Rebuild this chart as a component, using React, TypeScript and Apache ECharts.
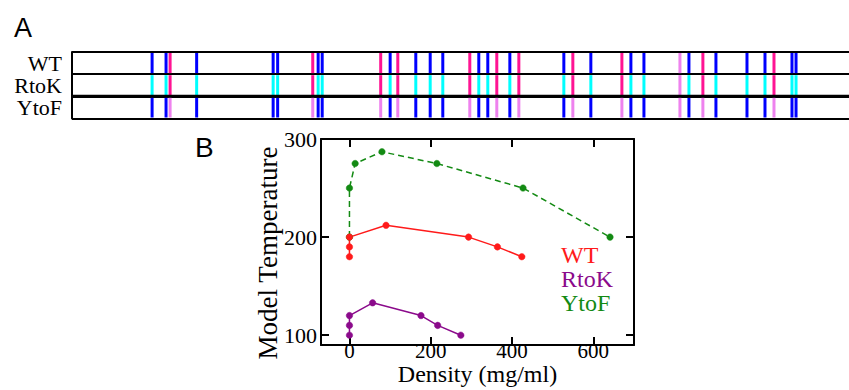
import React, { useEffect, useRef } from "react";
import * as echarts from "echarts";

// Panel A: rows (bottom to top) and site positions (residue index units)
const rows = ["YtoF", "RtoK", "WT"];
const sitesBlue = [17.8, 20.9, 27.7, 44.7, 45.7, 54.7, 55.6, 70.7, 76.4, 79.6, 82.4, 90.4, 92.4, 97.3, 109.3, 115.3, 124.2, 127.1, 137.1, 143.1, 150, 154, 160, 160.9];
const sitesPink = [21.8, 53.5, 68.6, 72.4, 88.4, 94.4, 99.3, 111.3, 122.2, 140.2, 156];
const sitesViolet = [135.1];
const sequenceLength = 172.67;

// Panel B: density (mg/ml) vs model temperature
const wtDensity = [0, 0, 0, 90, 293, 364, 424];
const wtTemp = [180, 190, 200, 212, 200, 190, 180];
const rtokDensity = [0, 0, 0, 57, 176, 217, 274];
const rtokTemp = [100, 110, 120, 133, 120, 110, 100];
const ytofDensity = [0, 0, 14, 80, 215, 427, 641];
const ytofTemp = [200, 250, 275, 287, 275, 250, 200];
const xTicks = [0, 200, 400, 600];
const yTicks = [100, 200, 300];

const SERIF = "Liberation Serif";
const SANS = "Liberation Sans";

const C_BLUE = "#0000ff";
const C_CYAN = "#00ffff";
const C_PINK = "#ff1493";
const C_VIOLET = "#ee82ee";
const C_WT = "#ff1a1a";
const C_RTOK = "#8b0a8b";
const C_YTOF = "#138a13";

// colour per row: [YtoF, RtoK, WT]
const rowColors: Record<string, string[]> = {
  blue: [C_BLUE, C_CYAN, C_BLUE],
  pink: [C_VIOLET, C_PINK, C_PINK],
  violet: [C_VIOLET, C_VIOLET, C_VIOLET],
};

function siteData() {
  const out: any[] = [];
  const add = (list: number[], kind: string) => {
    list.forEach((p) => {
      rows.forEach((r, i) => out.push({ value: [p, i], itemStyle: { color: rowColors[kind][i] } }));
    });
  };
  add(sitesBlue, "blue");
  add(sitesPink, "pink");
  add(sitesViolet, "violet");
  return out;
}

export default function App() {
  const ref = useRef<HTMLDivElement>(null);
  useEffect(() => {
    if (!ref.current) return;
    const chart = echarts.init(ref.current, undefined, { renderer: "svg" });
    const black = "#000";
    const mkLine = (name: string, xs: number[], ys: number[], color: string, dashed: boolean) => ({
      name,
      type: "line",
      xAxisIndex: 1,
      yAxisIndex: 1,
      data: xs.map((x, i) => [x, ys[i]]),
      symbol: "circle",
      symbolSize: 6.5,
      itemStyle: { color, borderColor: color, borderWidth: 0.5 },
      lineStyle: { color, width: 1.5, type: dashed ? [6, 4] : "solid" },
      z: 3,
    });
    const frameLine = { onZero: false, lineStyle: { color: black, width: 2 } };
    chart.setOption({
      animation: false,
      grid: [
        { left: 72, top: 52, right: 0, height: 66.5, outerBoundsMode: "none" },
        { left: 321, top: 139, width: 313, height: 206, outerBoundsMode: "none" },
      ],
      xAxis: [
        { gridIndex: 0, type: "value", min: 0, max: sequenceLength, show: false },
        {
          gridIndex: 1, type: "value", min: -70, max: 700, position: "bottom",
          axisLine: frameLine,
          axisTick: { inside: true, length: 8, customValues: xTicks, lineStyle: { color: black, width: 2 } },
          axisLabel: { customValues: xTicks, color: black, fontSize: 21, lineHeight: 16, fontFamily: SERIF, margin: -2 },
          splitLine: { show: false },
          name: "Density (mg/ml)", nameLocation: "middle", nameGap: 20, nameMoveOverlap: false,
          nameTextStyle: { color: black, fontSize: 24, lineHeight: 18, fontFamily: SERIF },
        },
        {
          gridIndex: 1, type: "value", min: -70, max: 700, position: "top",
          axisLine: frameLine,
          axisTick: { inside: true, length: 8, customValues: xTicks, lineStyle: { color: black, width: 2 } },
          axisLabel: { show: false },
          splitLine: { show: false },
        },
      ],
      yAxis: [
        {
          gridIndex: 0, type: "category", data: rows,
          axisLine: frameLine,
          axisTick: { show: false },
          axisLabel: { interval: 0, color: black, fontSize: 22, lineHeight: 20, fontFamily: SERIF, margin: 10 },
          splitLine: { show: true, interval: 0, lineStyle: { color: black, width: 2 } },
        },
        {
          gridIndex: 1, type: "value", min: 90, max: 300, position: "left",
          axisLine: frameLine,
          axisTick: { inside: true, length: 8, customValues: yTicks, lineStyle: { color: black, width: 2 } },
          axisLabel: { customValues: yTicks, color: black, fontSize: 22, fontFamily: SERIF, margin: 4 },
          splitLine: { show: false },
        },
        {
          gridIndex: 1, type: "value", min: 90, max: 300, position: "right",
          axisLine: frameLine,
          axisTick: { inside: true, length: 8, customValues: yTicks, lineStyle: { color: black, width: 2 } },
          axisLabel: { show: false },
          splitLine: { show: false },
        },
      ],
      legend: {
        orient: "vertical",
        left: 551,
        top: 238,
        icon: "none",
        itemWidth: 0,
        itemHeight: 14,
        itemGap: 0,
        selectedMode: false,
        textStyle: { fontSize: 24, fontFamily: SERIF },
        data: [
          { name: "WT", textStyle: { color: C_WT } },
          { name: "RtoK", textStyle: { color: C_RTOK } },
          { name: "YtoF", textStyle: { color: C_YTOF } },
        ],
      },
      graphic: [
        { type: "text", left: 14, top: 14, style: { text: "A", fontSize: 27, fontFamily: SANS, fill: black } },
        { type: "text", left: 195, top: 133, style: { text: "B", fontSize: 28, fontFamily: SANS, fill: black } },
        {
          type: "text", x: 268, y: 253, rotation: Math.PI / 2,
          style: { text: "Model Temperature", fontSize: 27, fontFamily: SERIF, fill: black, align: "center", verticalAlign: "middle" },
        },
      ],
      series: [
        {
          name: "sites",
          type: "custom",
          xAxisIndex: 0,
          yAxisIndex: 0,
          data: siteData(),
          encode: { x: 0, y: 1 },
          renderItem: (params: any, api: any) => {
            const p = api.coord([api.value(0), api.value(1)]);
            const h = api.size([0, 1])[1];
            return {
              type: "rect",
              shape: { x: p[0] - 1.5, y: p[1] - h / 2 + 1, width: 3, height: h - 2 },
              style: { fill: api.visual("color") },
            };
          },
          z: 2,
        },
        {
          name: "divider",
          type: "custom",
          xAxisIndex: 0,
          yAxisIndex: 0,
          data: [[0, 0]],
          encode: { x: 0, y: 1 },
          renderItem: (params: any, api: any) => {
            const p = api.coord([0, api.value(1)]);
            const h = api.size([0, 1])[1];
            const cs = params.coordSys;
            return {
              type: "line",
              shape: { x1: cs.x, y1: p[1] - h / 2, x2: cs.x + cs.width, y2: p[1] - h / 2 },
              style: { stroke: black, lineWidth: 3 },
            };
          },
          z: 4,
        },
        mkLine("YtoF", ytofDensity, ytofTemp, C_YTOF, true),
        mkLine("WT", wtDensity, wtTemp, C_WT, false),
        mkLine("RtoK", rtokDensity, rtokTemp, C_RTOK, false),
      ],
    });
    return () => chart.dispose();
  }, []);
  return (
    <div
      ref={ref}
      style={{ position: "fixed", left: 0, top: 0, width: 849, height: 390, background: "#fff" }}
    />
  );
}
